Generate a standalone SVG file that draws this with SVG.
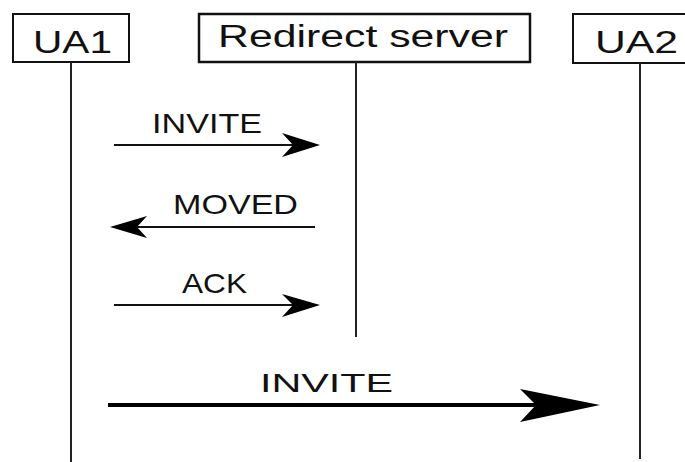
<svg xmlns="http://www.w3.org/2000/svg" width="685" height="462" viewBox="0 0 685 462">
  <style>
    .box { fill: #fff; stroke: #111; stroke-width: 2; }
    .life { stroke: #222; stroke-width: 2; fill: none; }
    .msg { stroke: #111; stroke-width: 2; fill: none; }
    .msg-bold { stroke: #000; stroke-width: 4; fill: none; }
    .head { fill: #000; }
    .name { font-family: "Liberation Sans", Arial, sans-serif; font-size: 31px; fill: #111; }
    .lbl { font-family: "Liberation Sans", Arial, sans-serif; font-size: 28px; fill: #111; }
  </style>
  <rect width="685" height="462" fill="#fff"/>

  <g id="ua1">
    <rect class="box" x="13" y="14" width="116" height="48"/>
    <line class="life" x1="71" y1="62" x2="71" y2="462"/>
    <text class="name" x="33" y="53" textLength="79" lengthAdjust="spacingAndGlyphs">UA1</text>
  </g>

  <g id="redirect-server">
    <rect class="box" x="199" y="14" width="331" height="48" style="stroke-width:2.5"/>
    <line class="life" x1="356" y1="62" x2="356" y2="337"/>
    <text class="name" x="218" y="47" textLength="290" lengthAdjust="spacingAndGlyphs">Redirect server</text>
  </g>

  <g id="ua2">
    <rect class="box" x="573" y="14" width="120" height="49"/>
    <line class="life" x1="640" y1="63" x2="640" y2="459"/>
    <text class="name" x="595" y="53" textLength="83" lengthAdjust="spacingAndGlyphs">UA2</text>
  </g>

  <g id="connectors">
    <!-- INVITE: UA1 to redirect server -->
    <line class="msg" x1="114" y1="145" x2="300" y2="145"/>
    <path class="head" d="M320,145 L282,133 L293,145 L282,157 Z"/>
    <text class="lbl" x="152" y="133" textLength="110" lengthAdjust="spacingAndGlyphs">INVITE</text>

    <!-- MOVED: redirect server back to UA1 -->
    <line class="msg" x1="315" y1="227" x2="130" y2="227"/>
    <path class="head" d="M110,227 L147,216 L137,227 L147,238 Z"/>
    <text class="lbl" x="173" y="214" textLength="125" lengthAdjust="spacingAndGlyphs">MOVED</text>

    <!-- ACK -->
    <line class="msg" x1="114" y1="305" x2="300" y2="305"/>
    <path class="head" d="M320,305 L282,294 L293,305 L282,317 Z"/>
    <text class="lbl" x="182" y="293" textLength="65" lengthAdjust="spacingAndGlyphs">ACK</text>

    <!-- INVITE: UA1 to UA2 -->
    <line class="msg-bold" x1="108" y1="405" x2="545" y2="405"/>
    <path class="head" d="M600,405 L520,389 L536,405 L520,422 Z"/>
    <text class="lbl" x="260" y="392" style="font-size:26.5px" textLength="133" lengthAdjust="spacingAndGlyphs">INVITE</text>
  </g>
</svg>
